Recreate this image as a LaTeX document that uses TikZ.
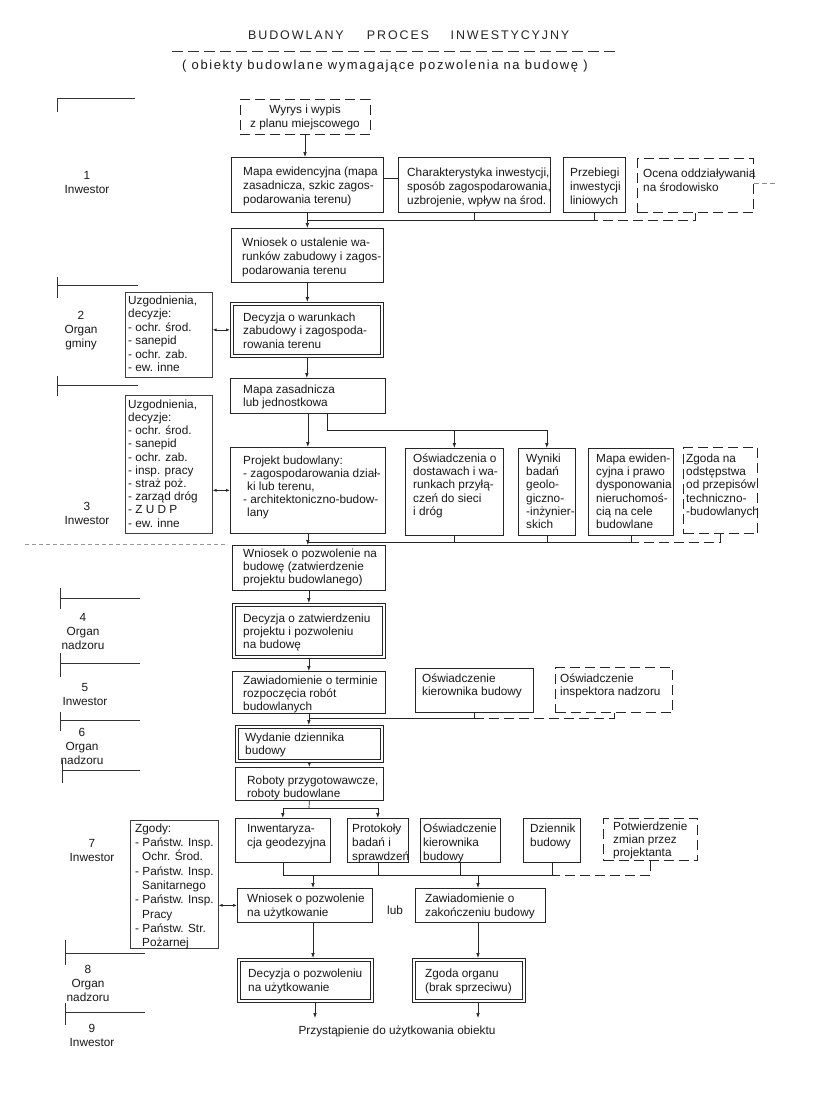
\documentclass[tikz,border=0pt]{standalone}
\usepackage{fontspec}
\setmainfont{Liberation Sans}
\newfontfamily\titlefont[LetterSpace=15]{Liberation Sans}
\newfontfamily\subtfont[LetterSpace=12]{Liberation Sans}
\usetikzlibrary{arrows.meta,calc}

\newcommand\txtskip{13.5}
\newcommand\mkbx[9]{%
  \node[#2, minimum width={#5-#3}, minimum height={#6-#4}, anchor=north west] (#1) at (#3,#4) {};
  \node[txt, anchor=north west] (#1-t) at (#7,{#8-5.5}) {\rule{0pt}{9.5pt}#9};
}
\newcommand\dblin[1]{%
  \draw[innerline] ([shift={(3,3)}]#1.north west) rectangle ([shift={(-3,-3)}]#1.south east);
}

\tikzset{
  mainbox/.style={draw=black!85, line width=0.7pt, rectangle, inner sep=0pt},
  sidebox/.style={draw=black!75, line width=0.55pt, rectangle, inner sep=0pt},
  dashbox/.style={draw=black!85, line width=1pt, dash pattern=on 10pt off 5pt, rectangle, inner sep=0pt},
  dbox/.style={draw=black!85, line width=0.7pt, rectangle, inner sep=0pt},
  innerline/.style={draw=black!85, line width=0.7pt},
  txt/.style={inner sep=0pt, align=left, font=\fontsize{11.8}{\txtskip}\selectfont, text=black!90},
  conn/.style={line width=0.7pt, draw=black!85},
  dconn/.style={conn, line width=1pt, dash pattern=on 10pt off 5pt},
  arr/.style={conn, -{Latex[length=5pt,width=3.6pt]}},
  barr/.style={conn, {Latex[length=4pt,width=3pt]}-{Latex[length=4pt,width=3pt]}},
  lab/.style={align=center, inner sep=0pt, font=\fontsize{11.8}{14}\selectfont, text=black!90},
  rowline/.style={line width=0.6pt, draw=black!80},
}

\begin{document}
\begin{tikzpicture}[x=1pt,y=-1pt]
\fill[white] (0,0) rectangle (817,1097);
\useasboundingbox (0,0) rectangle (817,1097);

% title
\node[inner sep=0pt, font=\titlefont\fontsize{12.5}{14}\selectfont, text=black!85] (t1) at (296,35) {BUDOWLANY};
\node[inner sep=0pt, font=\titlefont\fontsize{12.5}{14}\selectfont, text=black!85] (t2) at (398,35) {PROCES};
\node[inner sep=0pt, font=\titlefont\fontsize{12.5}{14}\selectfont, text=black!85] (t3) at (510,35) {INWESTYCYJNY};
\draw[black!80, line width=0.8pt, dash pattern=on 11pt off 5pt] (172,51) -- (617,51);
\node[inner sep=0pt, font=\subtfont\fontsize{13}{15}\selectfont, text=black!90] (sub) at (385,66) {( obiekty budowlane wymagające pozwolenia na budowę )};

% row markers
\foreach \mx/\my/\va/\vb/\xe in {57/98/98/112/135, 57/285/277/298/138, 57/385/376/396/138,
   60/598/588/609/140, 60/663/653/677/140, 60/720/712/731/140, 62/770/760/783/140,
   65/953/940/965/145, 65/1012/1003/1025/145}
  \draw[rowline] (\mx,\va) -- (\mx,\vb) (\mx,\my) -- (\xe,\my);

% row labels
\node[lab] (L1) at (87,182) {1\\Inwestor};
\node[lab] (L2) at (81,331) {2\\Organ\\gminy};
\node[lab] (L3) at (87,513) {3\\Inwestor};
\node[lab] (L4) at (83,631) {4\\Organ\\nadzoru};
\node[lab] (L5) at (85,694) {5\\Inwestor};
\node[lab] (L6) at (82,746) {6\\Organ\\nadzoru};
\node[lab] (L7) at (92,850) {7\\Inwestor};
\node[lab] (L8) at (88,983) {8\\Organ\\nadzoru};
\node[lab] (L9) at (92,1035) {9\\Inwestor};

% row 1
\node[dashbox, txt, align=center, minimum width=130, minimum height=35] (wyrys) at (305,117.5) {Wyrys i wypis\\z planu miejscowego};
\renewcommand\txtskip{14}
\mkbx{mapa1}{mainbox}{231}{157}{383}{212}{243}{171}{Mapa ewidencyjna (mapa\\zasadnicza, szkic zagos-\\podarowania terenu)}
\mkbx{char}{mainbox}{398}{157}{550}{212}{407}{172}{Charakterystyka inwestycji,\\sposób zagospodarowania,\\uzbrojenie, wpływ na środ.}
\mkbx{przeb}{mainbox}{563}{157}{625}{212}{570}{172}{Przebiegi\\inwestycji\\liniowych}
\mkbx{ocena}{dashbox}{637}{158}{753}{212}{643}{173}{Ocena oddziaływania\\na środowisko}
\mkbx{wn1}{mainbox}{231}{228}{383}{282}{242}{242}{Wniosek o ustalenie wa-\\runków zabudowy i zagos-\\podarowania terenu}

% row 2
\renewcommand\txtskip{13.5}
\mkbx{uzg1}{sidebox}{125}{292}{212}{377}{128}{300}{Uzgodnienia,\\decyzje:\\- ochr. środ.\\- sanepid\\- ochr. zab.\\- ew. inne}
\mkbx{dec1}{dbox}{230}{302}{383}{357}{243}{317}{Decyzja o warunkach\\zabudowy i zagospoda-\\rowania terenu}
\dblin{dec1}

% row 3
\mkbx{mapa2}{mainbox}{230}{378}{385}{413}{243}{389}{Mapa zasadnicza\\lub jednostkowa}
\renewcommand\txtskip{13.2}
\mkbx{uzg2}{sidebox}{125}{395}{212}{533}{128}{404}{Uzgodnienia,\\decyzje:\\- ochr. środ.\\- sanepid\\- ochr. zab.\\- insp. pracy\\- straż poż.\\- zarząd dróg\\- Z U D P\\- ew. inne}
\renewcommand\txtskip{13}
\mkbx{proj}{mainbox}{230}{447}{385}{533}{243}{460}{Projekt budowlany:\\- zagospodarowania dział-\\\hspace*{4pt}ki lub terenu,\\- architektoniczno-budow-\\\hspace*{4pt}lany}
\renewcommand\txtskip{13.3}
\mkbx{osw1}{mainbox}{405}{448}{503}{535}{413}{458}{Oświadczenia o\\dostawach i wa-\\runkach przyłą-\\czeń do sieci\\i dróg}
\mkbx{wyn}{mainbox}{518}{448}{575}{535}{526}{458}{Wyniki\\badań\\geolo-\\giczno-\\-inżynier-\\skich}
\mkbx{mapa3}{mainbox}{588}{448}{673}{535}{596}{458}{Mapa ewiden-\\cyjna i prawo\\dysponowania\\nieruchomoś-\\cią na cele\\budowlane}
\mkbx{zgoda}{dashbox}{683}{447}{757}{533}{686}{458}{Zgoda na\\odstępstwa\\od przepisów\\techniczno-\\-budowlanych}

% row 4-5
\mkbx{wn2}{mainbox}{232}{545}{385}{590}{243}{553}{Wniosek o pozwolenie na\\budowę (zatwierdzenie\\projektu budowlanego)}
\mkbx{dec2}{dbox}{232}{603}{385}{658}{243}{618}{Decyzja o zatwierdzeniu\\projektu i pozwoleniu\\na budowę}
\dblin{dec2}
\mkbx{zaw1}{mainbox}{232}{671}{385}{713}{243}{680}{Zawiadomienie o terminie\\rozpoczęcia robót\\budowlanych}
\mkbx{kier1}{mainbox}{415}{668}{533}{712}{422}{678}{Oświadczenie\\kierownika budowy}
\mkbx{insp}{dashbox}{555}{667}{672}{712}{560}{678}{Oświadczenie\\inspektora nadzoru}

% row 6
\mkbx{wyd}{dbox}{235}{725}{383}{762}{245}{737}{Wydanie dziennika\\budowy}
\dblin{wyd}
\mkbx{rob}{mainbox}{235}{767}{383}{800}{247}{780}{Roboty przygotowawcze,\\roboty budowlane}

% row 7
\renewcommand\txtskip{14.3}
\mkbx{zgody}{sidebox}{130}{820}{218}{948}{135}{828}{Zgody:\\- Państw. Insp.\\\hspace*{7pt}Ochr. Środ.\\- Państw. Insp.\\\hspace*{7pt}Sanitarnego\\- Państw. Insp.\\\hspace*{7pt}Pracy\\- Państw. Str.\\\hspace*{7pt}Pożarnej}
\renewcommand\txtskip{14}
\mkbx{inw}{mainbox}{235}{818}{330}{862}{247}{828}{Inwentaryza-\\cja geodezyjna}
\mkbx{prot}{mainbox}{347}{818}{408}{862}{352}{828}{Protokoły\\badań i\\sprawdzeń}
\mkbx{kier2}{mainbox}{420}{818}{500}{862}{423}{828}{Oświadczenie\\kierownika\\budowy}
\mkbx{dzien}{mainbox}{523}{818}{580}{862}{530}{828}{Dziennik\\budowy}
\renewcommand\txtskip{13.3}
\mkbx{potw}{dashbox}{603}{818}{697}{860}{613}{826}{Potwierdzenie\\zmian przez\\projektanta}
\renewcommand\txtskip{14}
\mkbx{wn3}{mainbox}{237}{888}{372}{922}{247}{898}{Wniosek o pozwolenie\\na użytkowanie}
\mkbx{zaw2}{mainbox}{415}{888}{545}{922}{425}{898}{Zawiadomienie o\\zakończeniu budowy}
\node[lab] (lub) at (395,910) {lub};

% row 8
\mkbx{dec3}{dbox}{237}{958}{373}{1002}{248}{973}{Decyzja o pozwoleniu\\na użytkowanie}
\dblin{dec3}
\mkbx{zgod2}{dbox}{412}{958}{525}{1002}{425}{973}{Zgoda organu\\(brak sprzeciwu)}
\dblin{zgod2}
\node[lab] (final) at (397,1031) {Przystąpienie do użytkowania obiektu};

% ---------- connectors ----------
% row 1
\draw[arr] (wyrys.south) -- (wyrys.south |- mapa1.north);
\draw[conn] ($(mapa1.north east)!0.38!(mapa1.south east)$) -- ($(char.north west)!0.38!(char.south west)$);
\draw[black!45, line width=0.5pt, dash pattern=on 5pt off 3pt] ($(ocena.north east)!0.45!(ocena.south east)$) -- ++(22,0);
\coordinate (j1) at (307,220);
\draw[arr] (mapa1.south) -- (mapa1.south |- wn1.north);
\draw[conn] (char.south) |- (j1);
\draw[conn] (przeb.south) |- (j1);
\draw[dconn] (ocena.south) |- (przeb.south |- j1);

% row 2
\draw[arr] (wn1.south) -- (wn1.south |- dec1.north);
\draw[barr] (uzg1.east |- dec1.west) -- (dec1.west);
\draw[arr] (dec1.south) -- (dec1.south |- mapa2.north);

% row 3
\draw[arr] (mapa2.south) -- (mapa2.south |- proj.north);
\coordinate (j2) at (327,430);
\draw[arr] (mapa2.south -| j2) -- (j2) -| (wyn.north);
\draw[arr] (j2 -| osw1.north) -- (osw1.north);
\draw[barr] (uzg2.east |- proj.west) -- (proj.west);
\coordinate (j3) at (308,542);
\draw[black!40, line width=0.5pt, dash pattern=on 4pt off 3pt] (25,544) -- (228,544);
\draw[arr] (proj.south) -- (proj.south |- wn2.north);
\draw[conn] (mapa3.south) |- (j3);
\draw[conn] (wyn.south) -- (wyn.south |- j3);
\draw[conn] (osw1.south) -- (osw1.south |- j3);
\draw[dconn] (zgoda.south) |- (mapa3.south |- j3);

% row 4-5
\draw[arr] (wn2.south) -- (wn2.south |- dec2.north);
\draw[arr] (dec2.south) -- (dec2.south |- zaw1.north);
\coordinate (j5) at (308.5,718);
\draw[arr] (zaw1.south) -- (zaw1.south |- wyd.north);
\draw[conn] (kier1.south) |- (j5);
\draw[dconn] (insp.south) |- (kier1.south |- j5);

% row 6
\draw[arr] (wyd.south) -- (wyd.south |- rob.north);
\coordinate (j6) at (309,808);
\draw[conn] (rob.south) -- (j6);
\draw[arr] (j6) -| (inw.north);
\draw[arr] (j6) -| (prot.north);

% row 7
\coordinate (j7) at (313,875);
\coordinate (j7b) at (478,875);
\draw[conn] (inw.south) |- (dzien.south |- j7);
\draw[conn] (prot.south) -- (prot.south |- j7);
\draw[conn] (kier2.south) -- (kier2.south |- j7);
\draw[conn] (dzien.south) -- (dzien.south |- j7);
\draw[dconn] (potw.south) |- (dzien.south |- j7);
\draw[arr] (j7) -- (j7 |- wn3.north);
\draw[arr] (j7b) -- (j7b |- zaw2.north);
\draw[barr] (zgody.east |- wn3.west) -- (wn3.west);
\draw[arr] (wn3.south -| j7) -- (dec3.north -| j7);
\draw[arr] (zaw2.south -| j7b) -- (zgod2.north -| j7b);
\coordinate (e1) at (315,1018);
\coordinate (e2) at (478,1018);
\draw[arr] (dec3.south -| e1) -- (e1);
\draw[arr] (zgod2.south -| e2) -- (e2);
\end{tikzpicture}
\end{document}
